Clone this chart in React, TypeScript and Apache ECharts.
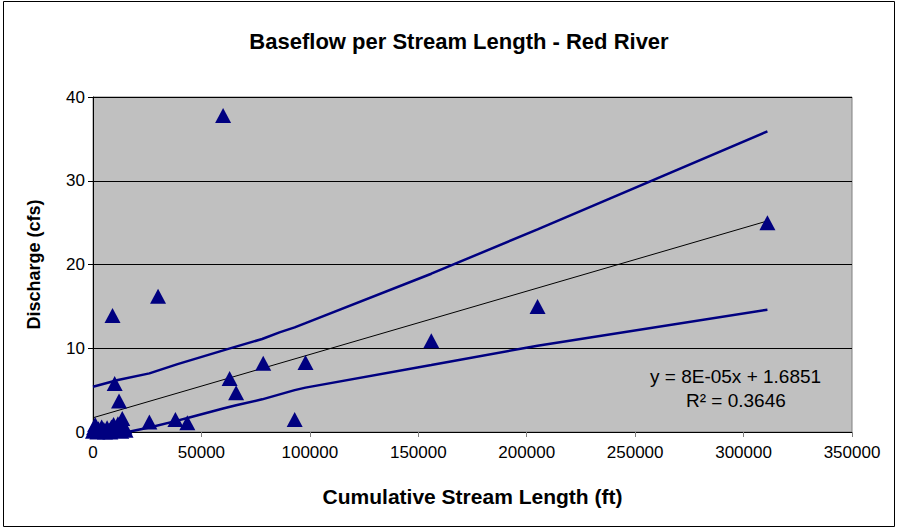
import React, { useEffect, useRef } from "react";
import * as echarts from "echarts";

const observed: [number, number][] = [
  [60000, 37.8], [30000, 16.2], [9000, 13.9], [10000, 5.8], [12000, 3.7],
  [63000, 6.4], [66000, 4.7], [78500, 8.2], [98000, 8.3], [93000, 1.5],
  [156000, 10.9], [205000, 15.0], [311000, 25.0], [38000, 1.5], [43500, 1.1],
  [26000, 1.2], [13500, 1.6],
  [0, 0.1], [500, 0.5], [1000, 0.9], [1500, 0.2], [2000, 0.0], [2500, 0.4],
  [3000, 0.1], [4000, 0.6], [5000, 0.3], [5500, 0.0], [6500, 0.5], [7500, 0.2],
  [8000, 0.0], [8500, 0.6], [9500, 0.9], [10500, 0.3], [11500, 1.0],
  [12500, 0.5], [13000, 0.1], [14500, 0.6], [15000, 0.2],
];

const trendLine: [number, number][] = [[0, 1.7], [311000, 25.2]];

const upperBound: [number, number][] = [
  [0, 5.4], [11500, 6.2], [26000, 7.0], [39000, 8.1], [62000, 9.9],
  [78000, 11.1], [86000, 11.9], [93000, 12.5], [98000, 13.0], [156000, 18.9],
  [205000, 24.2], [311000, 35.9],
];

const lowerBound: [number, number][] = [
  [16000, 0.0], [27000, 0.6], [38000, 1.3], [44000, 1.7], [60000, 2.8],
  [66000, 3.2], [78000, 3.9], [93000, 5.0], [98000, 5.3], [156000, 8.0],
  [205000, 10.3], [311000, 14.6],
];

const titleText = "Baseflow per Stream Length - Red River";
const xTitle = "Cumulative Stream Length (ft)";
const yTitle = "Discharge (cfs)";
const equationLines = ["y = 8E-05x + 1.6851", "R\u00b2 = 0.3646"];

const FONT = "'Liberation Sans', Arial, sans-serif";
const NAVY = "#000080";

export default function App() {
  const ref = useRef<HTMLDivElement>(null);
  useEffect(() => {
    if (!ref.current) return;
    const chart = echarts.init(ref.current, undefined, { renderer: "svg" });
    chart.setOption({
      animation: false,
      backgroundColor: "#ffffff",
      title: {
        text: titleText,
        left: 454,
        top: 25,
        textAlign: "center",
        textStyle: { fontFamily: FONT, fontWeight: "bold", fontSize: 22, color: "#000" },
      },
      grid: {
        left: 93, top: 97, right: 47, bottom: 97,
        show: true, backgroundColor: "#c0c0c0", borderColor: "#808080", borderWidth: 1,
      },
      xAxis: {
        type: "value", min: 0, max: 350000, interval: 50000,
        name: xTitle, nameLocation: "middle", nameGap: 54,
        nameTextStyle: { fontFamily: FONT, fontWeight: "bold", fontSize: 21, color: "#000" },
        axisLine: { show: true, onZero: false, lineStyle: { color: "#000", width: 1 } },
        axisTick: { show: true, length: 5, lineStyle: { color: "#808080" } },
        axisLabel: {
          fontFamily: FONT, fontSize: 17, color: "#000", margin: 12,
          formatter: (v: number) => String(v),
        },
        splitLine: { show: false },
      },
      yAxis: {
        type: "value", min: 0, max: 40, interval: 10,
        name: yTitle, nameLocation: "middle", nameGap: 50, nameRotate: 90,
        nameTextStyle: { fontFamily: FONT, fontWeight: "bold", fontSize: 18, color: "#000" },
        axisLine: { show: true, lineStyle: { color: "#000", width: 1 } },
        axisTick: { show: true, length: 5, lineStyle: { color: "#000" } },
        axisLabel: { fontFamily: FONT, fontSize: 17, color: "#000", margin: 8 },
        splitLine: { show: true, lineStyle: { color: "#000", width: 1 } },
      },
      series: [
        {
          type: "line", data: trendLine, symbol: "none", z: 2,
          lineStyle: { color: "#000", width: 1 },
        },
        {
          type: "line", data: upperBound, symbol: "none", z: 3,
          lineStyle: { color: NAVY, width: 2.5 },
        },
        {
          type: "line", data: lowerBound, symbol: "none", z: 3,
          lineStyle: { color: NAVY, width: 2.5 },
        },
        {
          type: "scatter", data: observed, symbol: "triangle", symbolSize: [16, 15], z: 5,
          clip: false,
          itemStyle: { color: NAVY, opacity: 1 },
        },
      ],
      graphic: [
        {
          type: "rect", silent: true, z: -10,
          shape: { x: 3.5, y: 1.5, width: 891, height: 525 },
          style: { fill: "none", stroke: "#000", lineWidth: 1 },
        },
        {
          type: "text", left: 650, top: 367, z: 10,
          style: { text: equationLines[0], fontFamily: FONT, fontSize: 19, fill: "#000" },
        },
        {
          type: "text", left: 686, top: 391, z: 10,
          style: { text: equationLines[1], fontFamily: FONT, fontSize: 19, fill: "#000" },
        },
      ],
    });
    return () => chart.dispose();
  }, []);
  return (
    <div
      ref={ref}
      style={{ position: "fixed", left: 0, top: 0, width: 899, height: 529 }}
    />
  );
}
